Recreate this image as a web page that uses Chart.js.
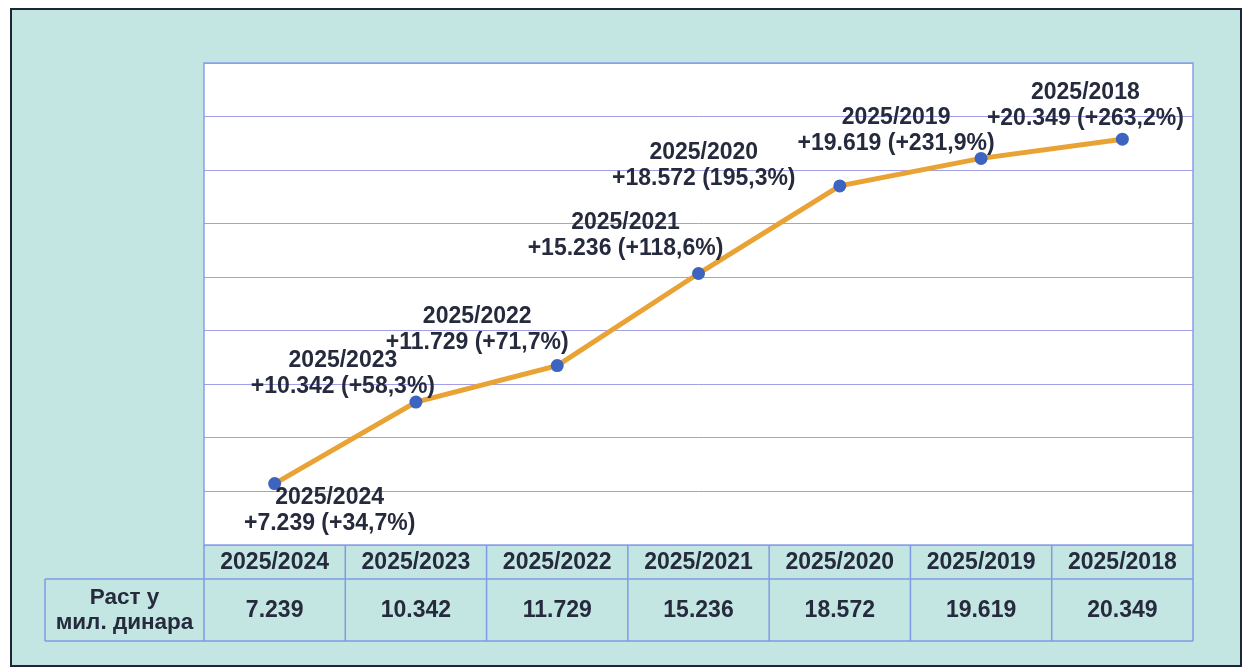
<!DOCTYPE html>
<html>
<head>
<meta charset="utf-8">
<title>Раст у мил. динара</title>
<script src="https://cdn.jsdelivr.net/npm/chart.js@4/dist/chart.umd.min.js"></script>
<style>
  html, body { margin: 0; padding: 0; background: #fff; }
  canvas { display: block; }
</style>
</head>
<body>
<canvas id="growth-chart" width="1246" height="669"></canvas>
<script>
/* global Chart */

// data
const categories = ["2025/2024", "2025/2023", "2025/2022", "2025/2021", "2025/2020", "2025/2019", "2025/2018"];
const growth     = [7239, 10342, 11729, 15236, 18572, 19619, 20349];
const growthPct  = ["+34,7%", "+58,3%", "+71,7%", "+118,6%", "195,3%", "+231,9%", "+263,2%"];
const rowLabel   = ["Раст у", "мил. динара"];

(() => {
  const FONT = '"Liberation Sans", Arial, sans-serif';
  const INK = "#262a3d";
  const TEAL = "#c3e6e2";
  const GRID = "#a09fe8";
  const TABLE_LINE = "#7e9be6";

  // label placement relative to each point (dx, dy of first line)
  const labelOffsets = [[55, 14], [-73, -41], [-80, -49], [-73, -51], [-136, -33], [-85, -41], [-37, -47]];

  const fmt = v => String(v).replace(/\B(?=(\d{3})+(?!\d))/g, ".");

  // =====================
  // Background / frame
  // =====================
  const framePlugin = {
    id: "frame",
    beforeDraw(chart) {
      const { ctx, chartArea: a } = chart;
      ctx.save();
      ctx.fillStyle = "#fff";
      ctx.fillRect(0, 0, chart.width, chart.height);
      ctx.fillStyle = TEAL;
      ctx.fillRect(11, 9, 1230, 657);
      ctx.strokeStyle = "#1d2538";
      ctx.lineWidth = 2;
      ctx.strokeRect(11, 9, 1230, 657);
      ctx.fillStyle = "#fff";
      ctx.fillRect(a.left, a.top, a.right - a.left, a.bottom - a.top);
      ctx.restore();
    }
  };

  // =====================
  // Point labels
  // =====================
  const labelPlugin = {
    id: "pointLabels",
    afterDatasetsDraw(chart) {
      const { ctx } = chart;
      const meta = chart.getDatasetMeta(0);
      ctx.save();
      ctx.fillStyle = INK;
      ctx.font = `bold 23px ${FONT}`;
      ctx.textAlign = "center";
      ctx.textBaseline = "middle";
      meta.data.forEach((pt, i) => {
        const [dx, dy] = labelOffsets[i];
        ctx.fillText(categories[i], pt.x + dx, pt.y + dy);
        ctx.fillText(`+${fmt(growth[i])} (${growthPct[i]})`, pt.x + dx, pt.y + dy + 26);
      });
      ctx.restore();
    }
  };

  // =====================
  // Data table under the plot
  // =====================
  const tablePlugin = {
    id: "dataTable",
    afterDraw(chart) {
      const { ctx, chartArea: a } = chart;
      const x = chart.scales.x;
      const half = (x.getPixelForValue(1) - x.getPixelForValue(0)) / 2;
      const top = a.bottom, mid = a.bottom + 34, bot = a.bottom + 96;
      const labelLeft = 45;

      ctx.save();
      // plot border
      ctx.strokeStyle = "#8c9de9";
      ctx.lineWidth = 1.5;
      ctx.strokeRect(a.left, a.top, a.right - a.left, a.bottom - a.top);

      // table grid
      ctx.strokeStyle = TABLE_LINE;
      ctx.beginPath();
      ctx.moveTo(labelLeft, mid); ctx.lineTo(a.right, mid);
      ctx.moveTo(labelLeft, bot); ctx.lineTo(a.right, bot);
      ctx.moveTo(labelLeft, mid); ctx.lineTo(labelLeft, bot);
      categories.forEach((c, i) => {
        const l = x.getPixelForValue(i) - half;
        ctx.moveTo(l, top); ctx.lineTo(l, bot);
      });
      ctx.moveTo(a.right, top); ctx.lineTo(a.right, bot);
      ctx.stroke();

      // texts
      ctx.fillStyle = INK;
      ctx.textAlign = "center";
      ctx.textBaseline = "middle";
      ctx.font = `bold 23px ${FONT}`;
      categories.forEach((c, i) => {
        const cx = x.getPixelForValue(i);
        ctx.fillText(c, cx, (top + mid) / 2 + 1);
        ctx.fillText(fmt(growth[i]), cx, (mid + bot) / 2 + 1);
      });
      ctx.font = `bold 22.5px ${FONT}`;
      const lx = (labelLeft + a.left) / 2;
      ctx.fillText(rowLabel[0], lx, (mid + bot) / 2 - 12);
      ctx.fillText(rowLabel[1], lx, (mid + bot) / 2 + 13);
      ctx.restore();
    }
  };

  // =====================
  // Chart
  // =====================
  const Y_MIN = 4900, Y_MAX = 23250, Y_STEPS = 9;

  const ctx = document.getElementById("growth-chart").getContext("2d");
  new Chart(ctx, {
    type: "line",
    data: {
      labels: categories,
      datasets: [{
        label: "Раст у мил. динара",
        data: growth,
        borderColor: "#e9a234",
        borderWidth: 5,
        tension: 0,
        pointRadius: 6.5,
        pointBackgroundColor: "#3c64c0",
        pointBorderColor: "#3c64c0",
        pointBorderWidth: 0,
        fill: false
      }]
    },
    options: {
      responsive: false,
      animation: false,
      devicePixelRatio: 1,
      layout: { padding: { left: 204, right: 53, top: 63, bottom: 124 } },
      plugins: { legend: { display: false }, tooltip: { enabled: false } },
      scales: {
        x: { display: false, offset: true },
        y: {
          min: Y_MIN,
          max: Y_MAX,
          afterBuildTicks(scale) {
            const step = (Y_MAX - Y_MIN) / Y_STEPS;
            scale.ticks = Array.from({ length: Y_STEPS + 1 }, (_, i) => ({ value: Y_MIN + i * step }));
          },
          ticks: { display: false },
          border: { display: false },
          grid: { color: GRID, lineWidth: 1, drawTicks: false }
        }
      }
    },
    plugins: [framePlugin, labelPlugin, tablePlugin]
  });
})();
</script>
</body>
</html>
